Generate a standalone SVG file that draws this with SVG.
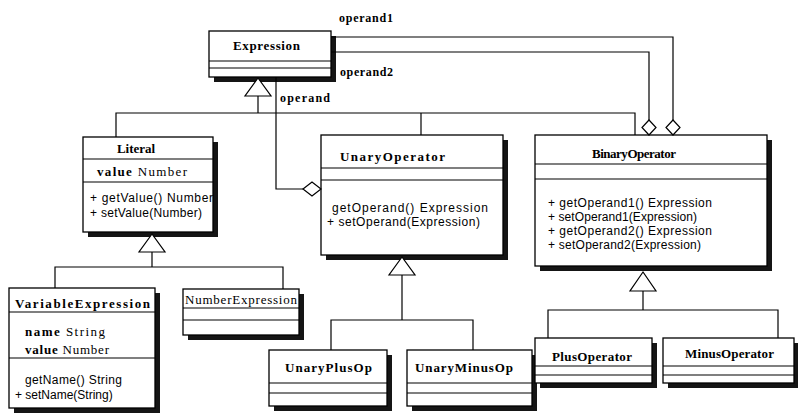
<svg xmlns="http://www.w3.org/2000/svg" width="798" height="413" viewBox="0 0 798 413">
<style>
.box{fill:#fff;stroke:#000;stroke-width:1.3}
.sh{fill:#151515}
.sep{stroke:#000;stroke-width:1.1}
.cls{font-family:"Liberation Serif",serif;font-weight:bold;font-size:13px;fill:#000}
.attr{font-family:"Liberation Serif",serif;font-size:13px;fill:#000}
.op{font-family:"Liberation Sans",Arial,sans-serif;font-size:12px;fill:#000}
.lbl{font-family:"Liberation Serif",serif;font-weight:bold;font-size:12px;fill:#000}
.conn{fill:none;stroke:#000;stroke-width:1.2}
.tri{fill:#fff;stroke:#000;stroke-width:1.2}
</style>
<rect width="798" height="413" fill="#fff"/>

<g id="Expression">
<rect class="sh" x="214" y="36" width="122" height="46"/>
<rect class="box" x="209" y="31" width="122" height="46"/>
<line class="sep" x1="209" y1="61" x2="331" y2="61"/>
<line class="sep" x1="209" y1="68" x2="331" y2="68"/>
<text class="cls" x="233" y="50" textLength="67">Expression</text>
</g>

<g id="Literal">
<rect class="sh" x="88" y="142" width="130" height="95"/>
<rect class="box" x="83" y="137" width="130" height="95"/>
<line class="sep" x1="83" y1="159" x2="213" y2="159"/>
<line class="sep" x1="83" y1="182" x2="213" y2="182"/>
<text class="cls" x="117" y="153" textLength="38">Literal</text>
<text class="attr" x="97" y="176" textLength="90"><tspan font-weight="bold">value</tspan>  Number</text>
<text class="op" x="90" y="202" textLength="123">+ getValue()  Number</text>
<text class="op" x="90" y="217" textLength="112">+ setValue(Number)</text>
</g>

<g id="UnaryOperator">
<rect class="sh" x="326" y="140" width="182" height="120"/>
<rect class="box" x="321" y="135" width="182" height="120"/>
<line class="sep" x1="321" y1="168" x2="503" y2="168"/>
<line class="sep" x1="321" y1="180" x2="503" y2="180"/>
<text class="cls" x="340" y="161" font-size="14" textLength="105">UnaryOperator</text>
<text class="op" x="332" y="212" textLength="156">getOperand()  Expression</text>
<text class="op" x="327" y="226" textLength="153">+ setOperand(Expression)</text>
</g>

<g id="BinaryOperator">
<rect class="sh" x="540" y="140" width="232" height="131"/>
<rect class="box" x="535" y="135" width="232" height="131"/>
<line class="sep" x1="535" y1="164" x2="767" y2="164"/>
<line class="sep" x1="535" y1="179" x2="767" y2="179"/>
<text class="cls" x="592" y="158" font-size="12" textLength="84">BinaryOperator</text>
<text class="op" x="548" y="207" textLength="164">+ getOperand1()  Expression</text>
<text class="op" x="548" y="221" textLength="149">+ setOperand1(Expression)</text>
<text class="op" x="548" y="235" textLength="164">+ getOperand2()  Expression</text>
<text class="op" x="548" y="249" textLength="153">+ setOperand2(Expression)</text>
</g>

<g id="VariableExpression">
<rect class="sh" x="14" y="293" width="146" height="120"/>
<rect class="box" x="9" y="288" width="146" height="120"/>
<line class="sep" x1="9" y1="312" x2="155" y2="312"/>
<line class="sep" x1="9" y1="358" x2="155" y2="358"/>
<text class="cls" x="15" y="308" font-size="14" textLength="135">VariableExpression</text>
<text class="attr" x="25" y="336" textLength="80"><tspan font-weight="bold">name</tspan>  String</text>
<text class="attr" x="25" y="354" textLength="84"><tspan font-weight="bold">value</tspan>  Number</text>
<text class="op" x="25" y="384" textLength="97">getName()  String</text>
<text class="op" x="15" y="399" font-size="11.5">+ setName(String)</text>
</g>

<g id="NumberExpression">
<rect class="sh" x="188" y="294" width="116" height="46"/>
<rect class="box" x="183" y="289" width="116" height="46"/>
<line class="sep" x1="183" y1="308" x2="299" y2="308"/>
<line class="sep" x1="183" y1="320" x2="299" y2="320"/>
<text class="attr" x="185" y="304" font-size="12" textLength="112">NumberExpression</text>
</g>

<g id="UnaryPlusOp">
<rect class="sh" x="274" y="355" width="118" height="56"/>
<rect class="box" x="269" y="350" width="118" height="56"/>
<line class="sep" x1="269" y1="383" x2="387" y2="383"/>
<line class="sep" x1="269" y1="393" x2="387" y2="393"/>
<text class="cls" x="285" y="372" font-size="14" textLength="87">UnaryPlusOp</text>
</g>

<g id="UnaryMinusOp">
<rect class="sh" x="412" y="355" width="125" height="56"/>
<rect class="box" x="407" y="350" width="125" height="56"/>
<line class="sep" x1="407" y1="383" x2="532" y2="383"/>
<line class="sep" x1="407" y1="393" x2="532" y2="393"/>
<text class="cls" x="415" y="372" font-size="14" textLength="98">UnaryMinusOp</text>
</g>

<g id="PlusOperator">
<rect class="sh" x="540" y="343" width="117" height="45"/>
<rect class="box" x="535" y="338" width="117" height="45"/>
<line class="sep" x1="535" y1="366" x2="652" y2="366"/>
<line class="sep" x1="535" y1="375" x2="652" y2="375"/>
<text class="cls" x="552" y="361" textLength="80">PlusOperator</text>
</g>

<g id="MinusOperator">
<rect class="sh" x="668" y="343" width="131" height="45"/>
<rect class="box" x="663" y="338" width="131" height="45"/>
<line class="sep" x1="663" y1="366" x2="794" y2="366"/>
<line class="sep" x1="663" y1="375" x2="794" y2="375"/>
<text class="cls" x="685" y="358" textLength="89">MinusOperator</text>
</g>

<g id="connectors">
<polyline class="conn" points="116,137 116,113 635,113 635,135"/>
<line class="conn" x1="258" y1="96" x2="258" y2="113"/>
<line class="conn" x1="421" y1="113" x2="421" y2="135"/>
<polygon class="tri" points="258,78 245,96 271,96"/>
<polyline class="conn" points="55,288 55,267 283,267 283,289"/>
<line class="conn" x1="152" y1="252" x2="152" y2="267"/>
<polygon class="tri" points="152,234 139,252 165,252"/>
<polyline class="conn" points="331,350 331,320 473,320 473,350"/>
<line class="conn" x1="402" y1="275" x2="402" y2="320"/>
<polygon class="tri" points="402,257 389,275 415,275"/>
<polyline class="conn" points="548,338 548,310 778,310 778,338"/>
<line class="conn" x1="643" y1="291" x2="643" y2="310"/>
<polygon class="tri" points="643,272 630,291 656,291"/>
<polyline class="conn" points="276,77 276,189 303,189"/>
<polygon class="tri" points="303,189 312,182 321,189 312,196"/>
<polyline class="conn" points="331,37 673,37 673,120"/>
<polygon class="tri" points="673,120 680,127.5 673,135 666,127.5"/>
<polyline class="conn" points="331,52 649,52 649,120"/>
<polygon class="tri" points="649,120 656,127.5 649,135 642,127.5"/>
<text class="lbl" x="339" y="22" textLength="54">operand1</text>
<text class="lbl" x="340" y="76" textLength="53">operand2</text>
<text class="lbl" x="280" y="102" textLength="50">operand</text>
</g>
</svg>
